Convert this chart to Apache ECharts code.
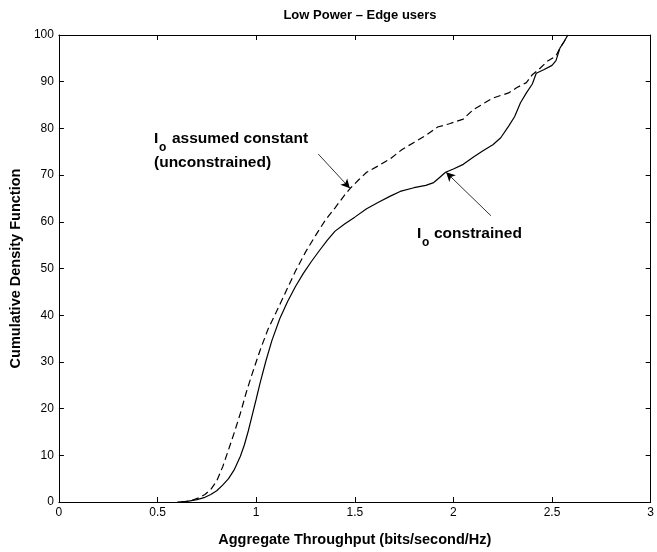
<!DOCTYPE html>
<html>
<head>
<meta charset="utf-8">
<script src="https://cdn.jsdelivr.net/npm/echarts@6/dist/echarts.min.js"></script>
<style>
html,body{margin:0;padding:0;background:#fff;}
#chart{width:657px;height:552px;}
</style>
</head>
<body>
<div id="chart"></div>
<script>
var xTicks = [0, 0.5, 1, 1.5, 2, 2.5, 3];
var yTicks = [0, 10, 20, 30, 40, 50, 60, 70, 80, 90, 100];

var constrainedX = [0.60,0.65,0.70,0.74,0.77,0.80,0.83,0.86,0.89,0.92,0.94,0.96,0.98,1.00,1.02,1.05,1.08,1.12,1.16,1.20,1.24,1.28,1.32,1.36,1.40,1.45,1.50,1.56,1.62,1.68,1.73,1.80,1.86,1.90,1.93,1.96,2.00,2.05,2.10,2.15,2.20,2.24,2.28,2.31,2.34,2.37,2.40,2.42,2.46,2.50,2.52,2.54,2.56,2.58];
var constrainedY = [0,0.15,0.5,1.0,1.6,2.4,3.6,5.0,7.0,9.8,12.2,15.2,18.6,22,25.5,30.3,34.6,39.3,43,46.2,49,51.5,53.8,56,58,59.6,61,62.8,64.2,65.5,66.5,67.3,67.8,68.4,69.5,70.6,71.3,72.3,73.8,75.2,76.5,78,80.5,82.5,85.5,87.6,89.5,91.8,92.6,93.5,94.5,97.2,98.5,100];

var unconstrainedX = [0.62,0.67,0.71,0.74,0.77,0.80,0.83,0.86,0.89,0.92,0.95,0.98,1.02,1.06,1.10,1.15,1.20,1.25,1.30,1.35,1.40,1.45,1.48,1.52,1.56,1.62,1.68,1.74,1.80,1.86,1.92,1.98,2.05,2.10,2.20,2.28,2.32,2.37,2.40,2.43,2.48,2.52,2.54,2.56,2.58];
var unconstrainedY = [0,0.3,0.9,1.6,2.7,4.5,7.5,11.2,15,19,23.5,27.5,32.5,37,40.5,45,49.5,53.5,57,60.3,63,65.8,67.3,69,70.6,72,73.5,75.5,77,78.5,80.3,81,82,84,86.5,87.6,88.7,89.8,91.5,92.5,94.5,95.5,97.2,98.5,100];

var arrowUnconstrained = [[1.315, 74.5], [1.475, 67.2]];
var arrowConstrained = [[2.19, 61.3], [1.963, 70.6]];

function pairs(xs, ys) { return xs.map(function (x, i) { return [x, ys[i]]; }); }

var FONT = 'Liberation Sans, Arial, Helvetica, sans-serif';
var chart = echarts.init(document.getElementById('chart'), null, {renderer: 'canvas'});

var baseAxis = {
  axisLine: {show: true, onZero: false, lineStyle: {color: '#000', width: 1}},
  axisTick: {show: true, inside: true, length: 5, lineStyle: {color: '#000', width: 1}},
  splitLine: {show: false}
};

chart.setOption({
  animation: false,
  backgroundColor: '#fff',
  title: {
    text: 'Low Power \u2013 Edge users',
    left: 355, top: 4, textAlign: 'center',
    textStyle: {fontFamily: FONT, fontSize: 13, fontWeight: 'bold', color: '#000'}
  },
  grid: {left: 57, right: 5, top: 35, bottom: 47, containLabel: false},
  xAxis: [
    Object.assign({}, baseAxis, {
      type: 'value', min: 0, max: 3, interval: 0.5, position: 'bottom',
      name: 'Aggregate Throughput (bits/second/Hz)', nameLocation: 'middle', nameGap: 30,
      nameTextStyle: {fontFamily: FONT, fontSize: 14.5, fontWeight: 'bold', color: '#000'},
      axisLabel: {fontFamily: FONT, fontSize: 12, color: '#000', margin: 5,
        formatter: function (v) { return xTicks.indexOf(v) >= 0 ? String(v) : ''; }}
    }),
    Object.assign({}, baseAxis, {
      type: 'value', min: 0, max: 3, interval: 0.5, position: 'top',
      axisLabel: {show: false}
    })
  ],
  yAxis: [
    Object.assign({}, baseAxis, {
      type: 'value', min: 0, max: 100, interval: 10, position: 'left',
      name: 'Cumulative Density Function', nameLocation: 'middle', nameGap: 32,
      nameTextStyle: {fontFamily: FONT, fontSize: 14.5, fontWeight: 'bold', color: '#000'},
      axisLabel: {fontFamily: FONT, fontSize: 12, color: '#000', margin: 5,
        formatter: function (v) { return yTicks.indexOf(v) >= 0 ? String(v) : ''; }}
    }),
    Object.assign({}, baseAxis, {
      type: 'value', min: 0, max: 100, interval: 10, position: 'right',
      axisLabel: {show: false}
    })
  ],
  series: [
    {
      type: 'line', name: 'constrained', data: pairs(constrainedX, constrainedY),
      showSymbol: false, symbol: 'none',
      lineStyle: {color: '#000', width: 1.2, type: 'solid'},
      markLine: {
        silent: true, symbol: ['none', 'arrow'], symbolSize: [7, 9],
        lineStyle: {color: '#000', width: 0.8, type: 'solid'},
        label: {show: false},
        data: [[{coord: arrowConstrained[0]}, {coord: arrowConstrained[1]}]]
      }
    },
    {
      type: 'line', name: 'unconstrained', data: pairs(unconstrainedX, unconstrainedY),
      showSymbol: false, symbol: 'none',
      lineStyle: {color: '#000', width: 1.2, type: [7, 4]},
      markLine: {
        silent: true, symbol: ['none', 'arrow'], symbolSize: [7, 9],
        lineStyle: {color: '#000', width: 0.8, type: 'solid'},
        label: {show: false},
        data: [[{coord: arrowUnconstrained[0]}, {coord: arrowUnconstrained[1]}]]
      }
    }
  ],
  graphic: [
    {type: 'text', left: 154, top: 131, style: {text: 'I', font: 'bold 15.5px ' + FONT, fill: '#000'}},
    {type: 'text', left: 159, top: 142, style: {text: 'o', font: 'bold 12px ' + FONT, fill: '#000'}},
    {type: 'text', left: 172, top: 131, style: {text: 'assumed constant', font: 'bold 15.5px ' + FONT, fill: '#000'}},
    {type: 'text', left: 154, top: 155, style: {text: '(unconstrained)', font: 'bold 15.5px ' + FONT, fill: '#000'}},
    {type: 'text', left: 417, top: 226, style: {text: 'I', font: 'bold 15.5px ' + FONT, fill: '#000'}},
    {type: 'text', left: 422, top: 237, style: {text: 'o', font: 'bold 12px ' + FONT, fill: '#000'}},
    {type: 'text', left: 434, top: 226, style: {text: 'constrained', font: 'bold 15.5px ' + FONT, fill: '#000'}}
  ]
});
</script>
</body>
</html>
